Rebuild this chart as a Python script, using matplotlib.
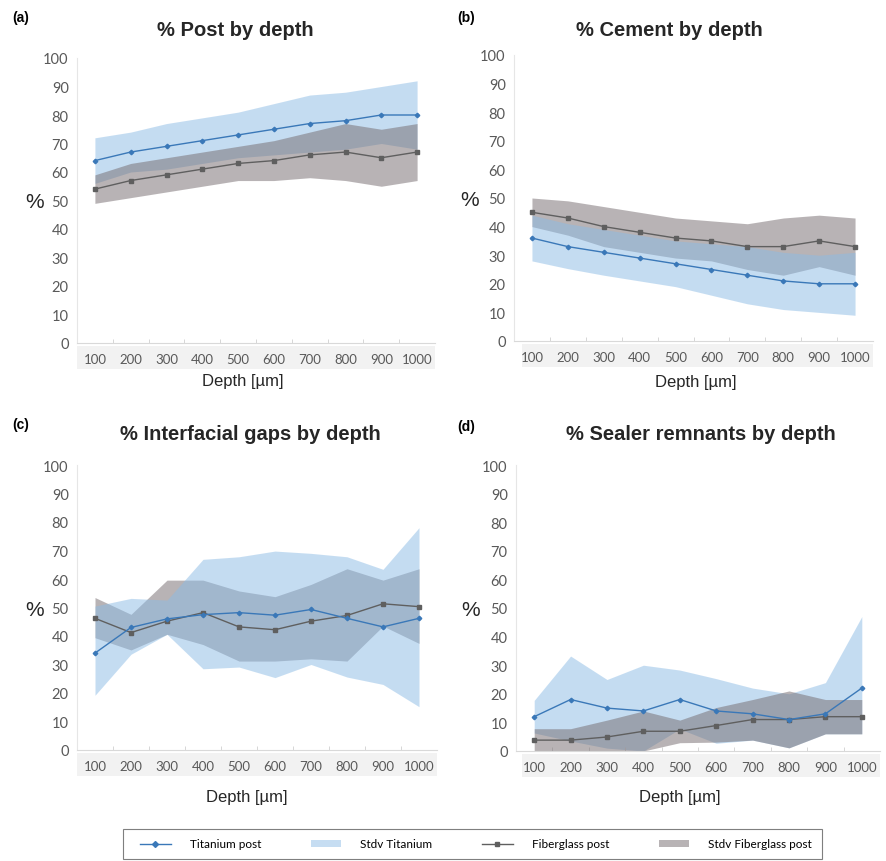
import numpy as np
import matplotlib.pyplot as plt
from matplotlib.lines import Line2D
from matplotlib.patches import Patch, Rectangle

# Data (values in %)
depth = [100, 200, 300, 400, 500, 600, 700, 800, 900, 1000]

# (a) Post
ti_mean_a = [64, 67, 69, 71, 73, 75, 77, 78, 80, 80]
ti_hi_a = [72, 74, 77, 79, 81, 84, 87, 88, 90, 92]
ti_lo_a = [56, 60, 61, 63, 65, 66, 67, 68, 70, 68]
fg_mean_a = [54, 57, 59, 61, 63, 64, 66, 67, 65, 67]
fg_hi_a = [59, 63, 65, 67, 69, 71, 74, 77, 75, 77]
fg_lo_a = [49, 51, 53, 55, 57, 57, 58, 57, 55, 57]

# (b) Cement
ti_mean_b = [36, 33, 31, 29, 27, 25, 23, 21, 20, 20]
ti_hi_b = [44, 41, 39, 37, 35, 34, 33, 31, 30, 31]
ti_lo_b = [28, 25.3, 23, 21, 19, 16, 13, 11, 10, 9]
fg_mean_b = [45, 43, 40, 38, 36, 35, 33, 33, 35, 33]
fg_hi_b = [50, 49, 47, 45, 43, 42, 41, 43, 44, 43]
fg_lo_b = [40, 37, 33, 31, 29, 28, 25, 23, 26, 23]

# (c) Interfacial gaps
ti_mean_c = [34, 43, 46, 47.5, 48.2, 47.3, 49.3, 46.2, 43.2, 46.2]
ti_hi_c = [50.5, 53.2, 52.6, 66.9, 67.8, 69.8, 69.0, 67.8, 63.4, 78.0]
ti_lo_c = [19.2, 33.6, 40.6, 28.5, 29.1, 25.4, 30.0, 25.6, 23.0, 15.2]
fg_mean_c = [46.2, 41.2, 45.2, 48.2, 43.2, 42.2, 45.2, 47.2, 51.3, 50.3]
fg_hi_c = [53.5, 47.6, 59.6, 59.6, 55.8, 53.8, 58.1, 63.6, 59.6, 63.6]
fg_lo_c = [39.4, 35.1, 40.6, 37.0, 31.2, 31.2, 32.0, 31.2, 43.5, 37.4]

# (d) Sealer remnants
ti_mean_d = [12, 18, 15, 14, 18, 14, 13, 11, 13, 22]
ti_hi_d = [17.7, 33.2, 25, 30, 28.3, 25.3, 22, 20, 23.9, 47]
ti_lo_d = [6.3, 3.5, 1, 0, 7.7, 2.7, 3.8, 1.1, 6, 6]
fg_mean_d = [3.8, 3.8, 4.9, 6.9, 6.9, 8.9, 11, 11, 12, 12]
fg_hi_d = [7.8, 7.8, 10.8, 14, 10.8, 15.2, 18, 21, 18, 18]
fg_lo_d = [0, 0, 0, 0, 2.9, 3.1, 3.8, 1.1, 6, 6]

ti_line = "#3A78B8"
fg_line = "#5F5F5F"
ti_band = "#8BBBE5"
fg_band = "#73696D"
tick_col = "#595959"

W, H = 886, 862
fig = plt.figure(figsize=(W / 100, H / 100), dpi=100)


def px(x, y):
    return x / W, 1 - y / H


panels = [
    # label, title, axes box (left, top, right, bottom px), text spots, data, blue on top, strip left
    ("(a)", "% Post by depth", (77, 59, 435, 344), (21, 18), (235, 30), (35, 203), (243, 382),
     (ti_mean_a, ti_hi_a, ti_lo_a, fg_mean_a, fg_hi_a, fg_lo_a), False, 77),
    ("(b)", "% Cement by depth", (514, 56, 873, 342), (466, 18), (669, 30), (470, 200), (696, 383),
     (ti_mean_b, ti_hi_b, ti_lo_b, fg_mean_b, fg_hi_b, fg_lo_b), True, 522),
    ("(c)", "% Interfacial gaps by depth", (77, 466, 437, 751), (21, 425), (250, 435), (35, 610), (247, 798),
     (ti_mean_c, ti_hi_c, ti_lo_c, fg_mean_c, fg_hi_c, fg_lo_c), True, 77),
    ("(d)", "% Sealer remnants by depth", (516, 466, 880, 752), (466, 427), (701, 435), (471, 610), (680, 798),
     (ti_mean_d, ti_hi_d, ti_lo_d, fg_mean_d, fg_hi_d, fg_lo_d), False, 522),
]

for lab, title, box, lab_xy, tit_xy, pct_xy, dep_xy, data, blue_top, band_left in panels:
    l, t, r, b = box
    x0, y1 = px(l, t)
    x1, y0 = px(r, b)
    ax = fig.add_axes([x0, y0, x1 - x0, y1 - y0])
    ti_m, ti_h, ti_l, fg_m, fg_h, fg_l = data

    zb, zg = (2, 1) if blue_top else (1, 2)
    ax.fill_between(depth, ti_l, ti_h, color=ti_band, alpha=0.5, lw=0, zorder=zb)
    ax.fill_between(depth, fg_l, fg_h, color=fg_band, alpha=0.5, lw=0, zorder=zg)
    ax.plot(depth, ti_m, color=ti_line, lw=1.0, marker="D", ms=2.3, zorder=4)
    ax.plot(depth, fg_m, color=fg_line, lw=1.0, marker="s", ms=2.3, zorder=3)

    ax.set_xlim(50, 1050)
    ax.set_ylim(0, 100)
    ax.set_yticks(range(0, 101, 10))
    ax.set_xticks(depth)
    ax.set_xticks(range(150, 1000, 100), minor=True)
    ax.tick_params(axis="y", length=0, pad=6, labelsize=10.5, labelcolor=tick_col)
    ax.tick_params(axis="x", which="major", length=0, pad=7, labelsize=9.5, labelcolor=tick_col)
    ax.tick_params(axis="x", which="minor", length=3, direction="in", color="#D0D0D0")
    for tl in ax.get_xticklabels() + ax.get_yticklabels():
        tl.set_fontfamily("Lato")
    for s in ("top", "right"):
        ax.spines[s].set_visible(False)
    ax.spines["left"].set_color("#E6E6E6")
    ax.spines["bottom"].set_color("#D9D9D9")

    # light grey strip behind the x tick labels
    bx0, by0 = px(band_left, b + 26)
    bx1, by1 = px(r, b + 3)
    fig.patches.append(Rectangle((bx0, by0), bx1 - bx0, by1 - by0, transform=fig.transFigure,
                                 facecolor="#F2F2F2", edgecolor="none", zorder=-1))

    fig.text(*px(*lab_xy), lab, fontsize=10, fontweight="bold", family="Liberation Sans",
             ha="center", va="center")
    fig.text(*px(*tit_xy), title, fontsize=14.5, fontweight="bold", family="Liberation Sans",
             ha="center", va="center", color="#262626")
    fig.text(*px(*pct_xy), "%", fontsize=15, family="Liberation Sans", ha="center", va="center",
             color="#262626")
    fig.text(*px(*dep_xy), "Depth [µm]", fontsize=12, family="Liberation Sans", ha="center",
             va="center", color="#262626")

# legend frame drawn by hand, entries spread inside it
fx0, fy1 = px(123, 830)
fx1, fy0 = px(822, 860)
fig.patches.append(Rectangle((fx0, fy0), fx1 - fx0, fy1 - fy0, transform=fig.transFigure,
                             facecolor="white", edgecolor="#7F7F7F", lw=0.8))

handles = [
    Line2D([], [], color=ti_line, lw=1.0, marker="D", ms=3),
    Patch(facecolor="#C6DDF2", edgecolor="none"),
    Line2D([], [], color=fg_line, lw=1.0, marker="s", ms=3),
    Patch(facecolor="#B8B3B5", edgecolor="none"),
]
labels = ["Titanium post", "Stdv Titanium", "Fiberglass post", "Stdv Fiberglass post"]
lx0, _ = px(140, 0)
lx1, _ = px(812, 0)
fig.legend(handles, labels, loc="center", ncol=4, mode="expand",
           bbox_to_anchor=(lx0, fy0, lx1 - lx0, fy1 - fy0), frameon=False,
           borderaxespad=0, borderpad=0, handlelength=2.6, handleheight=0.6,
           handletextpad=1.6, prop={"family": "Lato", "size": 8.5})

fig.savefig("out.png", dpi=100)
